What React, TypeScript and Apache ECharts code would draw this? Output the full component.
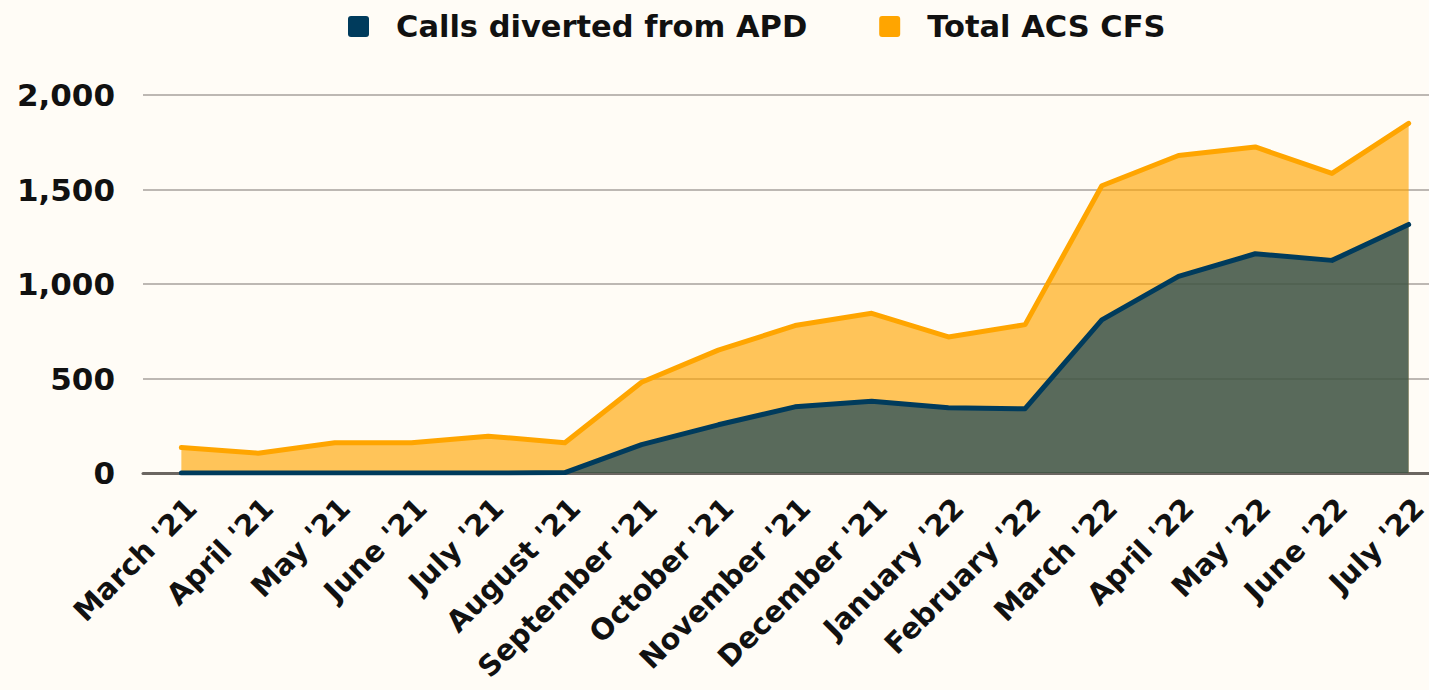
import React, { useEffect, useRef } from "react";
import * as echarts from "echarts";

const categories = [
  "March '21", "April '21", "May '21", "June '21", "July '21", "August '21",
  "September '21", "October '21", "November '21", "December '21",
  "January '22", "February '22", "March '22", "April '22", "May '22", "June '22", "July '22",
];
const totalAcsCfs = [135, 105, 160, 160, 195, 160, 480, 650, 780, 845, 720, 785, 1520, 1680, 1725, 1585, 1850];
const callsDiverted = [0, 0, 0, 0, 0, 2, 150, 255, 350, 380, 345, 340, 810, 1040, 1160, 1125, 1315];
const yTicks = { min: 0, max: 2000, interval: 500 };

const FONT = "'DejaVu Sans', sans-serif";

export default function App() {
  const ref = useRef<HTMLDivElement>(null);
  useEffect(() => {
    if (!ref.current) return;
    const chart = echarts.init(ref.current, undefined, { renderer: "svg" });
    chart.setOption({
      animation: false,
      backgroundColor: "#fffcf6",
      legend: {
        top: 6,
        left: 343,
        itemWidth: 21,
        itemHeight: 21,
        itemGap: 72,
        icon: "path://M3,0 H18 Q21,0 21,3 V18 Q21,21 18,21 H3 Q0,21 0,18 V3 Q0,0 3,0 Z",
        data: ["Calls diverted from APD", "Total ACS CFS"],
        textStyle: { fontFamily: FONT, fontSize: 30.5, fontWeight: "bold", color: "#111", padding: [0, 0, 0, 22] },
      },
      grid: { left: 143, right: 0, top: 95, bottom: 217, containLabel: false },
      xAxis: {
        type: "category",
        data: categories,
        boundaryGap: true,
        axisTick: { show: false },
        axisLine: { show: true, lineStyle: { color: "#6b6661", width: 3 } },
        axisLabel: {
          rotate: 45,
          interval: 0,
          margin: 20,
          verticalAlign: "top",
          fontFamily: FONT,
          fontSize: 29,
          fontWeight: "bold",
          color: "#111",
        },
      },
      yAxis: {
        type: "value",
        min: yTicks.min,
        max: yTicks.max,
        interval: yTicks.interval,
        axisLine: { show: false },
        axisTick: { show: false },
        splitLine: { lineStyle: { color: "#bdb8b3", width: 2 } },
        axisLabel: {
          margin: 28,
          fontFamily: FONT,
          fontSize: 31,
          fontWeight: "bold",
          color: "#111",
          formatter: (v: number) => v.toLocaleString("en-US"),
        },
      },
      series: [
        {
          name: "Total ACS CFS",
          type: "line",
          data: totalAcsCfs,
          symbol: "none",
          z: 2,
          itemStyle: { color: "#ffa500" },
          lineStyle: { color: "#ffa500", width: 5, cap: "round", join: "round" },
          areaStyle: { color: "#ffa500", opacity: 0.64 },
        },
        {
          name: "Calls diverted from APD",
          type: "line",
          data: callsDiverted,
          symbol: "none",
          z: 3,
          itemStyle: { color: "#003b5c" },
          lineStyle: { color: "#003b5c", width: 5, cap: "round", join: "round" },
          areaStyle: { color: "#003b5c", opacity: 0.65 },
        },
      ],
    });
    return () => chart.dispose();
  }, []);
  return (
    <div style={{ position: "fixed", left: 0, top: 0, width: 1429, height: 690, overflow: "hidden" }}>
      <div ref={ref} style={{ width: 1447, height: 690 }} />
    </div>
  );
}
